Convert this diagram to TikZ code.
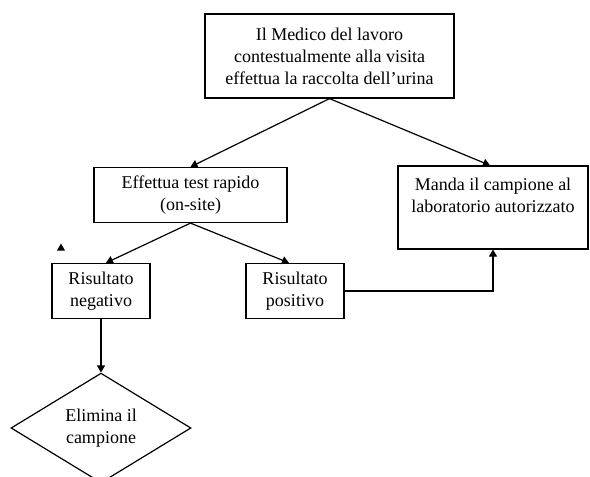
\documentclass[tikz,border=0pt]{standalone}
\usepackage{fontspec}
\setmainfont{Liberation Serif}
\usetikzlibrary{shapes.geometric}
\usetikzlibrary{arrows.meta}

\begin{document}
\begin{tikzpicture}[x=1pt, y=-1pt, line width=1.2pt,
		box/.style={draw, rectangle, inner sep=0pt, align=center, font=\fontsize{18}{22}\selectfont},
		rombo/.style={draw, diamond, inner sep=0pt, align=center, font=\fontsize{18}{22}\selectfont},
		freccia/.style={-{Triangle[length=7pt, width=8pt]}}]
				\clip (0, 0) rectangle (590, 477);

				\node[box, minimum width=249pt, minimum height=84pt] (medico) at (329.5, 56) {Il Medico del lavoro\\contestualmente alla visita\\effettua la raccolta dell'urina};
				\node[box, minimum width=193pt, minimum height=55pt] (test) at (190.5, 195) {Effettua test rapido\\(on-site)};
				\node[box, minimum width=190pt, minimum height=83pt] (manda) at (493, 207.5) {};
				\node[align=center, anchor=north, inner sep=0pt, font=\fontsize{18}{22}\selectfont] (mandatesto) at (493, 177) {Manda il campione al\\laboratorio autorizzato};
				\node[box, minimum width=98pt, minimum height=55pt] (negativo) at (101, 291) {Risultato\\negativo};
				\node[box, minimum width=98pt, minimum height=55pt] (positivo) at (295, 291) {Risultato\\positivo};
				\node[rombo, minimum width=180pt, minimum height=108pt] (elimina) at (101, 428) {Elimina il\\campione};

				\draw[freccia] (medico.south) -- (test.north);
				\draw[freccia] (medico.south) -- ([xshift=-3pt]manda.north);
				\draw[freccia] (test.south) -- ([xshift=5pt]negativo.north);
				\draw[freccia] (test.south) -- ([xshift=-6pt]positivo.north);
				\draw[freccia] (negativo.south) -- (elimina.north);
				\draw[freccia] (positivo.east) -| (manda.south);

				\fill (57, 250.5) -- (65, 250.5) -- (61, 243.5) -- cycle;
			\end{tikzpicture}
\end{document}
